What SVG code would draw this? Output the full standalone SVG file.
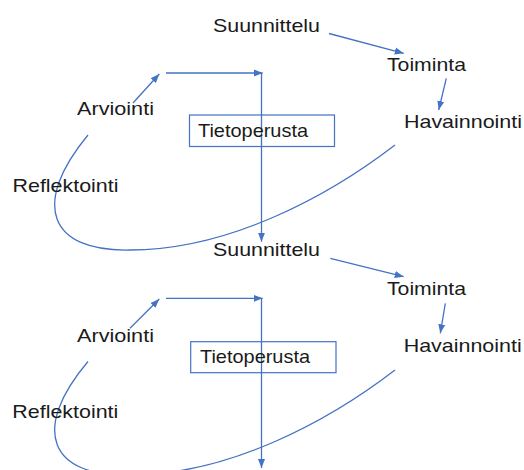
<svg xmlns="http://www.w3.org/2000/svg" width="524" height="470" viewBox="0 0 524 470">
<defs>
<style>
.t{font-family:"Liberation Sans",Arial,sans-serif;font-size:18.5px;fill:#1a1a1a}
.c{fill:none;stroke:#4472C4;stroke-width:1.3}
.b{fill:#ffffff;stroke:#4472C4;stroke-width:1.2}
</style>
<marker id="ah" markerUnits="userSpaceOnUse" markerWidth="10" markerHeight="10" viewBox="0 0 10 10" refX="9" refY="5" orient="auto">
<path d="M0,1.5 L9,5 L0,8.5 z" fill="#4472C4"/>
</marker>
</defs>
<rect width="524" height="470" fill="#ffffff"/>
<g id="connectors">
<path class="c" d="M395,145 C330,195 230,250 130,250 C50,252 30,205 88,135"/>
<line class="c" x1="133" y1="103" x2="159.3" y2="74" marker-end="url(#ah)"/>
<line class="c" x1="166" y1="73" x2="262.7" y2="73" marker-end="url(#ah)"/>
<line class="c" x1="261.5" y1="73" x2="261.5" y2="241.7" marker-end="url(#ah)"/>
<line class="c" x1="329" y1="33.5" x2="403.7" y2="53.3" marker-end="url(#ah)"/>
<line class="c" x1="446.3" y1="78.3" x2="438.7" y2="110" marker-end="url(#ah)"/>
<path class="c" d="M395,370 C330,420 230,475 130,475 C50,477 30,430 88,361.5"/>
<line class="c" x1="130" y1="328.3" x2="159.3" y2="299" marker-end="url(#ah)"/>
<line class="c" x1="166" y1="298.3" x2="262.7" y2="298.3" marker-end="url(#ah)"/>
<line class="c" x1="261.5" y1="298.3" x2="261.5" y2="468" marker-end="url(#ah)"/>
<line class="c" x1="330.3" y1="258.3" x2="403.7" y2="276.7" marker-end="url(#ah)"/>
<line class="c" x1="445.3" y1="303.3" x2="440.3" y2="333.3" marker-end="url(#ah)"/>
</g>
<g id="suunnittelu1"><text class="t" x="213" y="31.5" textLength="107" lengthAdjust="spacingAndGlyphs">Suunnittelu</text></g>
<g id="toiminta1"><text class="t" x="387" y="70.5" textLength="79" lengthAdjust="spacingAndGlyphs">Toiminta</text></g>
<g id="havainnointi1"><text class="t" x="404" y="128.3" textLength="118" lengthAdjust="spacingAndGlyphs">Havainnointi</text></g>
<g id="arviointi1"><text class="t" x="77" y="115" textLength="77" lengthAdjust="spacingAndGlyphs">Arviointi</text></g>
<g id="reflektointi1"><text class="t" x="12.5" y="192.3" textLength="106" lengthAdjust="spacingAndGlyphs">Reflektointi</text></g>
<g id="tietoperusta1"><rect class="b" x="189.5" y="115" width="145" height="31.5"/><line class="c" x1="261.5" y1="115" x2="261.5" y2="146.5"/><text class="t" x="198" y="136.7" textLength="110" lengthAdjust="spacingAndGlyphs">Tietoperusta</text></g>
<g id="suunnittelu2"><text class="t" x="213" y="255.5" textLength="107" lengthAdjust="spacingAndGlyphs">Suunnittelu</text></g>
<g id="toiminta2"><text class="t" x="387" y="295" textLength="79" lengthAdjust="spacingAndGlyphs">Toiminta</text></g>
<g id="havainnointi2"><text class="t" x="403.7" y="351.7" textLength="118" lengthAdjust="spacingAndGlyphs">Havainnointi</text></g>
<g id="arviointi2"><text class="t" x="77" y="341.7" textLength="77" lengthAdjust="spacingAndGlyphs">Arviointi</text></g>
<g id="reflektointi2"><text class="t" x="12.3" y="418.3" textLength="106" lengthAdjust="spacingAndGlyphs">Reflektointi</text></g>
<g id="tietoperusta2"><rect class="b" x="190.7" y="341.7" width="145.3" height="31"/><line class="c" x1="261.5" y1="341.7" x2="261.5" y2="372.7"/><text class="t" x="200" y="363.3" textLength="110" lengthAdjust="spacingAndGlyphs">Tietoperusta</text></g>
</svg>
